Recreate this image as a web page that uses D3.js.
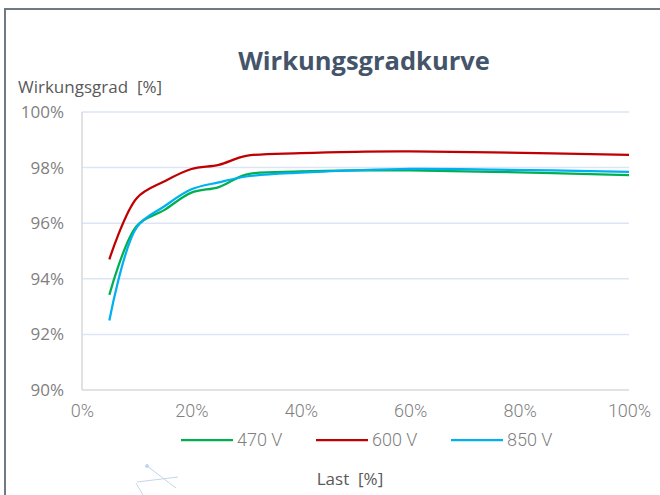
<!DOCTYPE html>
<html>
<head>
<meta charset="utf-8">
<script src="https://cdn.jsdelivr.net/npm/d3@7"></script>
<style>
  body { margin: 0; background: #fff; }
  svg { display: block; }
  text { white-space: pre; }
</style>
</head>
<body>
<div id="chart"></div>
<script>
// load points [%] and efficiency [%] per input voltage
const loads = [5, 10, 15, 20, 25, 30, 40, 50, 60, 75, 100];
const eff470 = [93.42, 95.9, 96.47, 97.1, 97.3, 97.75, 97.86, 97.9, 97.9, 97.85, 97.73];
const eff600 = [94.7, 96.9, 97.5, 97.95, 98.1, 98.42, 98.52, 98.57, 98.58, 98.55, 98.46];
const eff850 = [92.5, 95.85, 96.6, 97.22, 97.47, 97.68, 97.82, 97.9, 97.95, 97.93, 97.85];
const seriesNames = ["470 V", "600 V", "850 V"];
const seriesColors = ["#00b050", "#c00000", "#00b0f0"];
const xTicks = [0, 20, 40, 60, 80, 100];
const yTicks = [90, 92, 94, 96, 98, 100];

const width = 660, height = 495;
const margin = {left: 82, right: 31, top: 112, bottom: 105};

let svg = d3.select("#chart")
    .append("svg")
    .attr("width", width)
    .attr("height", height);

// outer frame (only top and left edges visible)
svg.append("path")
    .attr("d", `M5,${height} V9 H${width}`)
    .attr("fill", "none")
    .attr("stroke", "#6f7a82")
    .attr("stroke-width", 2);

let x = d3.scaleLinear().domain([0, 100]).range([margin.left, width - margin.right]);
let y = d3.scaleLinear().domain([90, 100]).range([height - margin.bottom, margin.top]);

// gridlines
svg.append("g")
    .selectAll("line")
    .data(yTicks.filter(d => d > 90))
    .enter().append("line")
    .attr("x1", x(0)).attr("x2", x(100))
    .attr("y1", d => y(d)).attr("y2", d => y(d))
    .attr("stroke", "#dbe5f5")
    .attr("stroke-width", 1.5);

// axis lines
svg.append("line")
    .attr("x1", x(0)).attr("x2", x(100))
    .attr("y1", y(90)).attr("y2", y(90))
    .attr("stroke", "#d9d9d9").attr("stroke-width", 1.5);
svg.append("line")
    .attr("x1", x(0)).attr("x2", x(0))
    .attr("y1", y(90)).attr("y2", y(100))
    .attr("stroke", "#d9d9d9").attr("stroke-width", 1.5);

// tick labels
let yAxis = d3.axisLeft(y).tickValues(yTicks).tickFormat(d => d + "%").tickSize(0).tickPadding(18);
let gy = svg.append("g").attr("transform", `translate(${x(0)},0)`).call(yAxis);
gy.select(".domain").remove();
gy.selectAll("text")
    .attr("fill", "#7f7f7f")
    .style("font-family", "'Open Sans', sans-serif")
    .style("font-size", "17px");

let xAxis = d3.axisBottom(x).tickValues(xTicks).tickFormat(d => d + "%").tickSize(0).tickPadding(14);
let gx = svg.append("g").attr("transform", `translate(0,${y(90)})`).call(xAxis);
gx.select(".domain").remove();
gx.selectAll("text")
    .attr("fill", "#7f7f7f")
    .style("font-family", "Roboto, sans-serif")
    .style("font-weight", 300)
    .style("font-size", "18px");

// lines
let allSeries = [eff470, eff600, eff850];
let line = d3.line()
    .x((d, i) => x(loads[i]))
    .y(d => y(d))
    .curve(d3.curveCatmullRom.alpha(0.5));

svg.append("g")
    .selectAll("path")
    .data(allSeries)
    .enter().append("path")
    .attr("d", line)
    .attr("fill", "none")
    .attr("stroke", (d, i) => seriesColors[i])
    .attr("stroke-width", 2.25)
    .attr("stroke-linejoin", "round");

// title & axis titles
svg.append("text")
    .attr("x", 364).attr("y", 70)
    .attr("text-anchor", "middle")
    .attr("fill", "#44546a")
    .style("font-family", "'Open Sans', sans-serif")
    .style("font-weight", 700)
    .style("font-size", "25.5px")
    .text("Wirkungsgradkurve");

svg.append("text")
    .attr("x", 18).attr("y", 93)
    .attr("fill", "#595959")
    .style("font-family", "'Open Sans', sans-serif")
    .style("font-size", "17px")
    .text("Wirkungsgrad  [%]");

svg.append("text")
    .attr("x", 350).attr("y", 485)
    .attr("text-anchor", "middle")
    .attr("fill", "#595959")
    .style("font-family", "'Open Sans', sans-serif")
    .style("font-size", "17px")
    .text("Last  [%]");

// legend
let legendX = [181, 316, 451];
let legend = svg.append("g")
    .selectAll("g")
    .data(seriesNames)
    .enter().append("g")
    .attr("transform", (d, i) => `translate(${legendX[i]},440)`);
legend.append("line")
    .attr("x1", 0).attr("x2", 52)
    .attr("stroke", (d, i) => seriesColors[i])
    .attr("stroke-width", 2.25);
legend.append("text")
    .attr("x", 56).attr("dy", "0.35em")
    .attr("fill", "#7f7f7f")
    .style("font-family", "Roboto, sans-serif")
    .style("font-weight", 300)
    .style("font-size", "18px")
    .text(d => d);

// faint stray marks left over in the source image
let stray = svg.append("g").attr("stroke", "#c5d5ea").attr("stroke-width", 1).attr("fill", "none");
stray.append("path").attr("d", "M147,466 L176,488 M137,482 L178,477 M136,483 L143,495");
stray.append("circle").attr("cx", 147).attr("cy", 466).attr("r", 1.5).attr("fill", "#c5d5ea");
</script>
</body>
</html>
